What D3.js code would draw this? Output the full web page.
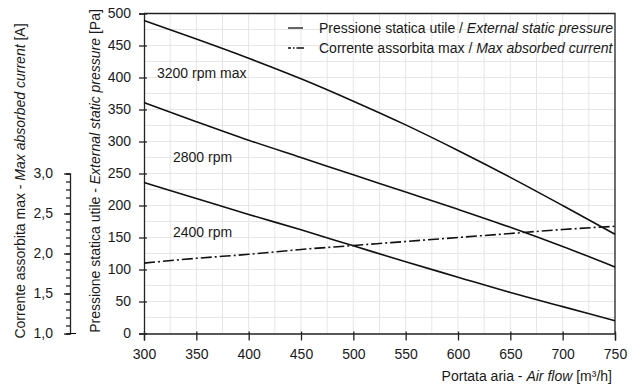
<!DOCTYPE html>
<html>
<head>
<meta charset="utf-8">
<script src="https://cdn.jsdelivr.net/npm/d3@7"></script>
<style>
  body { margin: 0; background: #fff; }
  svg { font-family: "Liberation Sans", Arial, Helvetica, sans-serif; }
</style>
</head>
<body>
<script>
// air flow [m3/h]
var airflow = [300, 350, 400, 450, 500, 550, 600, 650, 700, 750];
// external static pressure [Pa]
var p3200 = [489, 460, 430, 398, 363, 326, 286, 244, 200, 155];
var p2800 = [361, 331, 302, 275, 248, 221, 194, 166, 136, 104];
var p2400 = [236, 211, 186, 162, 137, 112, 88, 64, 42, 20];
// max absorbed current [A]
var current = [1.88, 1.94, 1.99, 2.05, 2.10, 2.15, 2.20, 2.25, 2.30, 2.34];

var xTicks = [300, 350, 400, 450, 500, 550, 600, 650, 700, 750];
var yTicks = [0, 50, 100, 150, 200, 250, 300, 350, 400, 450, 500];
var aTicks = [1.0, 1.5, 2.0, 2.5, 3.0];

var curves = [
  { name: "3200 rpm max", values: p3200, lx: 157, ly: 78 },
  { name: "2800 rpm", values: p2800, lx: 173, ly: 162 },
  { name: "2400 rpm", values: p2400, lx: 173, ly: 237 }
];

var width = 641, height = 385;

var svg = d3.select('body').append('svg')
  .attr('width', width)
  .attr('height', height);

var x = d3.scaleLinear().domain([300, 750]).range([144, 615]);
var y = d3.scaleLinear().domain([0, 500]).range([333.5, 13.5]);
// current axis shares the lower half of the pressure scale
var yA = d3.scaleLinear().domain([1, 3]).range([y(0), y(250)]);

var fmtA = function(d) { return d3.format('.1f')(d).replace('.', ','); };

/*
 * Grid
 */
var grid = svg.append('g').attr('class', 'grid');
grid.selectAll('.gx')
  .data(d3.range(325, 750, 25))
  .enter().append('line')
  .attr('x1', function(d) { return x(d); })
  .attr('x2', function(d) { return x(d); })
  .attr('y1', y(0)).attr('y2', y(500))
  .style('stroke', '#e6e6e6').style('stroke-width', 1);
grid.selectAll('.gy')
  .data(d3.range(25, 500, 25))
  .enter().append('line')
  .attr('x1', x(300)).attr('x2', x(750))
  .attr('y1', function(d) { return y(d); })
  .attr('y2', function(d) { return y(d); })
  .style('stroke', '#e6e6e6').style('stroke-width', 1);

// box top / right
svg.append('path')
  .attr('d', 'M' + x(300) + ',' + y(500) + 'H' + x(750) + 'V' + y(0))
  .style('fill', 'none').style('stroke', '#222').style('stroke-width', 1.3);

/*
 * Axes
 */
var xAxis = svg.append('g')
  .attr('transform', 'translate(0,' + y(0) + ')')
  .call(d3.axisBottom(x).tickValues(xTicks).tickSizeOuter(0).tickSize(7));
xAxis.selectAll('.tick line').attr('y1', -2);
xAxis.selectAll('.tick text').attr('y', 16).style('font-size', '14px').style('fill', '#1a1a1a');

var yAxis = svg.append('g')
  .attr('transform', 'translate(' + x(300) + ',0)')
  .call(d3.axisLeft(y).tickValues(yTicks).tickSizeOuter(0).tickSize(5));
yAxis.selectAll('.tick line').attr('x1', 3);
yAxis.selectAll('.tick text').attr('x', -13).style('font-size', '14px').style('fill', '#1a1a1a');

var aAxis = svg.append('g')
  .attr('transform', 'translate(70,0)');
aAxis.call(d3.axisLeft(yA).tickValues(d3.range(1.0, 3.01, 0.1)).tickFormat('').tickSizeOuter(0).tickSize(4));
aAxis.append('g')
  .call(d3.axisLeft(yA).tickValues(aTicks).tickFormat(fmtA).tickSizeOuter(0).tickSize(6))
  .call(function(g) { g.select('.domain').remove(); });
aAxis.selectAll('.tick text').attr('x', -17).style('font-size', '14px').style('fill', '#1a1a1a');
aAxis.append('line')
  .attr('x1', 0).attr('x2', 6)
  .attr('y1', yA(1)).attr('y2', yA(1))
  .style('stroke', '#000');

svg.selectAll('.domain, .tick line').style('stroke', '#222').style('stroke-width', 1.3);

/*
 * Curves
 */
var line = d3.line()
  .x(function(d, i) { return x(airflow[i]); })
  .y(function(d) { return y(d); })
  .curve(d3.curveMonotoneX);

svg.selectAll('.curve')
  .data(curves)
  .enter().append('path')
  .attr('class', 'curve')
  .attr('d', function(d) { return line(d.values); })
  .style('fill', 'none').style('stroke', '#111').style('stroke-width', 1.6);

svg.selectAll('.clabel')
  .data(curves)
  .enter().append('text')
  .attr('x', function(d) { return d.lx; })
  .attr('y', function(d) { return d.ly; })
  .style('font-size', '14px').style('fill', '#1a1a1a')
  .text(function(d) { return d.name; });

var lineA = d3.line()
  .x(function(d, i) { return x(airflow[i]); })
  .y(function(d) { return yA(d); })
  .curve(d3.curveMonotoneX);

svg.append('path')
  .attr('d', lineA(current))
  .style('fill', 'none').style('stroke', '#111').style('stroke-width', 1.6)
  .style('stroke-dasharray', '11,3,2,3');

/*
 * Legend
 */
var legend = svg.append('g');
legend.append('line')
  .attr('x1', 288).attr('x2', 303).attr('y1', 28).attr('y2', 28)
  .style('stroke', '#111').style('stroke-width', 1.3);
legend.append('line')
  .attr('x1', 288).attr('x2', 304).attr('y1', 48).attr('y2', 48)
  .style('stroke', '#111').style('stroke-width', 1.3)
  .style('stroke-dasharray', '3,2,1.5,2,8');

var leg1 = legend.append('text').attr('x', 319).attr('y', 33)
  .style('font-size', '14px').style('fill', '#1a1a1a');
leg1.append('tspan').text('Pressione statica utile / ');
leg1.append('tspan').style('font-style', 'italic').text('External static pressure');

var leg2 = legend.append('text').attr('x', 319).attr('y', 53)
  .style('font-size', '14px').style('fill', '#1a1a1a');
leg2.append('tspan').text('Corrente assorbita max / ');
leg2.append('tspan').style('font-style', 'italic').text('Max absorbed current');

/*
 * Axis titles
 */
var xt = svg.append('text')
  .attr('x', 612).attr('y', 381)
  .style('text-anchor', 'end').style('font-size', '14px').style('fill', '#1a1a1a');
xt.append('tspan').text('Portata aria - ');
xt.append('tspan').style('font-style', 'italic').text('Air flow');
xt.append('tspan').text(' [m³/h]');

var yt = svg.append('text')
  .attr('transform', 'translate(100,171) rotate(-90)')
  .style('text-anchor', 'middle').style('font-size', '14px').style('fill', '#1a1a1a');
yt.append('tspan').text('Pressione statica utile - ');
yt.append('tspan').style('font-style', 'italic').text('External static pressure');
yt.append('tspan').text(' [Pa]');

var at = svg.append('text')
  .attr('transform', 'translate(25,181) rotate(-90)')
  .style('text-anchor', 'middle').style('font-size', '14px').style('fill', '#1a1a1a');
at.append('tspan').text('Corrente assorbita max - ');
at.append('tspan').style('font-style', 'italic').text('Max absorbed current');
at.append('tspan').text(' [A]');
</script>
</body>
</html>
